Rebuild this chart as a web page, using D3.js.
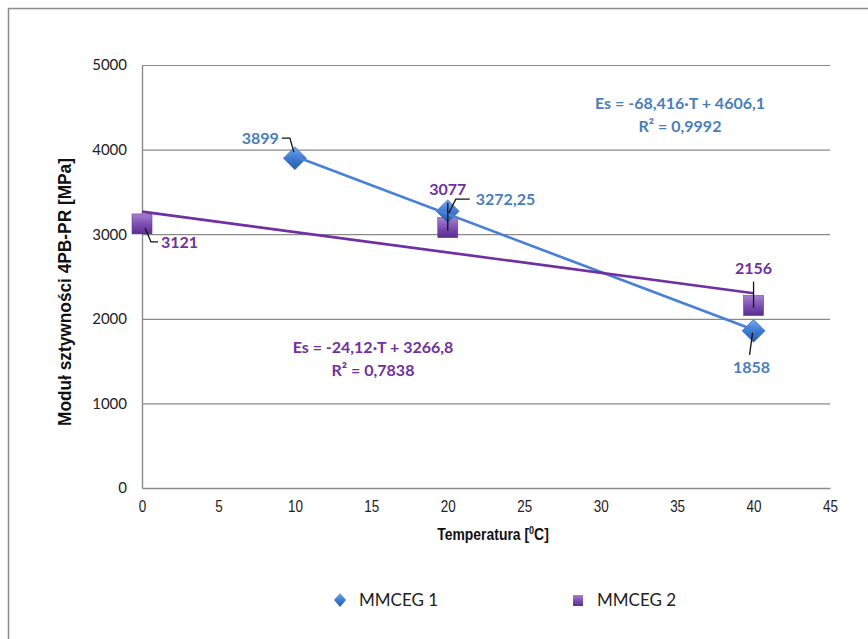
<!DOCTYPE html>
<html>
<head>
<meta charset="utf-8">
<script src="https://cdn.jsdelivr.net/npm/d3@7"></script>
<style>
  html, body { margin: 0; padding: 0; background: #fff; }
  svg { display: block; }
  .xax .tick text { font-family: "Liberation Sans", Arial, sans-serif; font-size: 16px; fill: #222; }
  .yax .tick text { font-family: Lato, "Open Sans", sans-serif; font-size: 15px; fill: #222; }
  .lbl { font-family: Lato, "Open Sans", sans-serif; font-weight: bold; font-size: 16px; }
  .axtitle { font-family: "Liberation Sans", Arial, sans-serif; font-weight: bold; fill: #111; }
  .leg { font-family: Lato, "Open Sans", sans-serif; font-size: 17px; fill: #222; }
</style>
</head>
<body>
<svg id="chart" width="868" height="639"></svg>
<script>
// Stiffness modulus vs. temperature for two mixtures
const seriesNames = ["MMCEG 1", "MMCEG 2"];
const temps1 = [10, 20, 40];
const values1 = [3899, 3272.25, 1858];
const temps2 = [0, 20, 40];
const values2 = [3121, 3077, 2156];

// Linear trendlines (slope, intercept) and fit quality
const slopes = [-68.416, -24.12];
const intercepts = [4606.1, 3266.8];
const r2 = ["0,9992", "0,7838"];
const equations = ["Es = -68,416·T + 4606,1", "Es = -24,12·T + 3266,8"];

const xTicks = [0, 5, 10, 15, 20, 25, 30, 35, 40, 45];
const yTicks = [0, 1000, 2000, 3000, 4000, 5000];

const blueLine = "#4a80d6", blueLabel = "#4a7ebb";
const purpleLine = "#7030a0", purpleLabel = "#7030a0";

const svg = d3.select("#chart");
const defs = svg.append("defs");

// Chart area frame
svg.append("rect").attr("x", 8.5).attr("y", 8.5).attr("width", 880).attr("height", 660)
  .attr("fill", "#fff").attr("stroke", "#8c8c8c").attr("stroke-width", 1.5);

const x = d3.scaleLinear().domain([0, 45]).range([142, 830]);
const y = d3.scaleLinear().domain([0, 5000]).range([488, 65]);

// Gridlines
svg.append("g").selectAll("line").data(yTicks.filter(d => d > 0)).join("line")
  .attr("x1", x(0)).attr("x2", x(45))
  .attr("y1", d => y(d) + 0.5).attr("y2", d => y(d) + 0.5)
  .attr("stroke", "#8a8a8a").attr("stroke-width", 1.2);

// Axes
const xAxis = svg.append("g").attr("class", "xax").attr("transform", `translate(0,${y(0)})`)
  .call(d3.axisBottom(x).tickValues(xTicks).tickSize(0).tickPadding(13).tickFormat(d3.format("d")));
xAxis.select(".domain").attr("stroke", "#8a8a8a").attr("stroke-width", 1.4);
xAxis.selectAll(".tick text").attr("transform", "scale(0.84,1)");

const yAxis = svg.append("g").attr("class", "yax").attr("transform", `translate(${x(0)},0)`)
  .call(d3.axisLeft(y).tickValues(yTicks).tickSize(0).tickPadding(15).tickFormat(d3.format("d")));
yAxis.select(".domain").attr("stroke", "#8a8a8a").attr("stroke-width", 1.4);

// Axis titles
svg.append("text").attr("class", "axtitle").attr("font-size", "18px")
  .attr("transform", `translate(71,292) rotate(-90)`)
  .attr("text-anchor", "middle")
  .attr("textLength", 268).attr("lengthAdjust", "spacingAndGlyphs")
  .text("Moduł sztywności 4PB-PR [MPa]");
const xt = svg.append("text").attr("class", "axtitle").attr("font-size", "17px")
  .attr("transform", "translate(493,540) scale(0.82,1)").attr("text-anchor", "middle");
xt.append("tspan").text("Temperatura [");
xt.append("tspan").text("0").attr("font-size", "11px").attr("dy", -6);
xt.append("tspan").text("C]").attr("dy", 6);

// Gradients for the markers
const gBlue = defs.append("linearGradient").attr("id", "gBlue").attr("x1", 0).attr("y1", 0).attr("x2", 0).attr("y2", 1);
gBlue.append("stop").attr("offset", "0%").attr("stop-color", "#7aa8ea");
gBlue.append("stop").attr("offset", "50%").attr("stop-color", "#3d7bd2");
gBlue.append("stop").attr("offset", "100%").attr("stop-color", "#2a5ea8");
const gPurple = defs.append("linearGradient").attr("id", "gPurple").attr("x1", 0).attr("y1", 0).attr("x2", 0).attr("y2", 1);
gPurple.append("stop").attr("offset", "0%").attr("stop-color", "#a681cf");
gPurple.append("stop").attr("offset", "55%").attr("stop-color", "#7a4bb0");
gPurple.append("stop").attr("offset", "100%").attr("stop-color", "#5b2e8c");

// Trendlines span the data range of each series
const trend = [
  { xs: [d3.min(temps1), d3.max(temps1)], k: 0, color: blueLine },
  { xs: [d3.min(temps2), d3.max(temps2)], k: 1, color: purpleLine }
];

// Markers series 2 (squares)
const s2 = temps2.map((t, i) => ({ t, v: values2[i] }));
svg.append("g").selectAll("rect").data(s2).join("rect")
  .attr("x", d => x(d.t) - 10).attr("y", d => y(d.v) - 10)
  .attr("width", 20).attr("height", 20)
  .attr("fill", "url(#gPurple)").attr("stroke", "#6a3d9a").attr("stroke-width", 0.6);

// Markers series 1 (diamonds)
const s1 = temps1.map((t, i) => ({ t, v: values1[i] }));
svg.append("g").selectAll("path").data(s1).join("path")
  .attr("d", d => { const cx = x(d.t), cy = y(d.v), r = 11.5; return `M${cx},${cy - r}L${cx + r},${cy}L${cx},${cy + r}L${cx - r},${cy}Z`; })
  .attr("fill", "url(#gBlue)").attr("stroke", "#3466a8").attr("stroke-width", 0.6);

trend.forEach(tl => {
  svg.append("line")
    .attr("x1", x(tl.xs[0])).attr("y1", y(slopes[tl.k] * tl.xs[0] + intercepts[tl.k]))
    .attr("x2", x(tl.xs[1])).attr("y2", y(slopes[tl.k] * tl.xs[1] + intercepts[tl.k]))
    .attr("stroke", tl.color).attr("stroke-width", 2.7);
});

// Data labels with leader lines
function leader(pts) {
  svg.append("path").attr("d", d3.line()(pts)).attr("fill", "none")
    .attr("stroke", "#111").attr("stroke-width", 1.3);
}
const fmt = v => String(v).replace(".", ",");

// MMCEG 1
leader([[x(10) - 13, y(values1[0]) - 20], [x(10) - 5, y(values1[0]) - 20], [x(10) - 1, y(values1[0]) - 6]]);
svg.append("text").attr("class", "lbl").attr("fill", blueLabel)
  .attr("x", x(10) - 16).attr("y", y(values1[0]) - 14).attr("text-anchor", "end").text(fmt(values1[0]));
leader([[x(20) + 22, y(values1[1]) - 12], [x(20) + 8, y(values1[1]) - 12], [x(20) + 1, y(values1[1]) + 2]]);
svg.append("text").attr("class", "lbl").attr("fill", blueLabel)
  .attr("x", x(20) + 28).attr("y", y(values1[1]) - 6).text(fmt(values1[1]));
leader([[x(40) - 1, y(values1[2]) + 2], [x(40) - 4, y(values1[2]) + 24]]);
svg.append("text").attr("class", "lbl").attr("fill", blueLabel)
  .attr("x", x(40) - 2).attr("y", y(values1[2]) + 42).attr("text-anchor", "middle").text(fmt(values1[2]));

// MMCEG 2
leader([[x(0) + 3, y(values2[0]) + 4], [x(0) + 9, y(values2[0]) + 18], [x(0) + 16, y(values2[0]) + 18]]);
svg.append("text").attr("class", "lbl").attr("fill", purpleLabel)
  .attr("x", x(0) + 19).attr("y", y(values2[0]) + 24).text(fmt(values2[0]));
leader([[x(20), y(values2[1]) - 25], [x(20), y(values2[1]) + 3]]);
svg.append("text").attr("class", "lbl").attr("fill", purpleLabel)
  .attr("x", x(20)).attr("y", y(values2[1]) - 33).attr("text-anchor", "middle").text(fmt(values2[1]));
leader([[x(40), y(values2[2]) - 24], [x(40), y(values2[2]) + 2]]);
svg.append("text").attr("class", "lbl").attr("fill", purpleLabel)
  .attr("x", x(40)).attr("y", y(values2[2]) - 32).attr("text-anchor", "middle").text(fmt(values2[2]));

// Trendline equations
const eqPos = [[680, 109], [373, 353]];
[0, 1].forEach(k => {
  const col = k === 0 ? blueLabel : purpleLabel;
  svg.append("text").attr("class", "lbl").attr("fill", col)
    .attr("x", eqPos[k][0]).attr("y", eqPos[k][1]).attr("text-anchor", "middle").text(equations[k]);
  svg.append("text").attr("class", "lbl").attr("fill", col)
    .attr("x", eqPos[k][0]).attr("y", eqPos[k][1] + 23).attr("text-anchor", "middle")
    .text("R² = " + r2[k]);
});

// Legend
const lg = svg.append("g");
lg.append("path").attr("d", "M340,593L346,600L340,607L334,600Z").attr("fill", "url(#gBlue)");
lg.append("text").attr("class", "leg").attr("x", 359).attr("y", 606).text(seriesNames[0]);
lg.append("rect").attr("x", 573).attr("y", 595).attr("width", 10).attr("height", 11).attr("fill", "url(#gPurple)");
lg.append("text").attr("class", "leg").attr("x", 597).attr("y", 606).text(seriesNames[1]);
</script>
</body>
</html>
